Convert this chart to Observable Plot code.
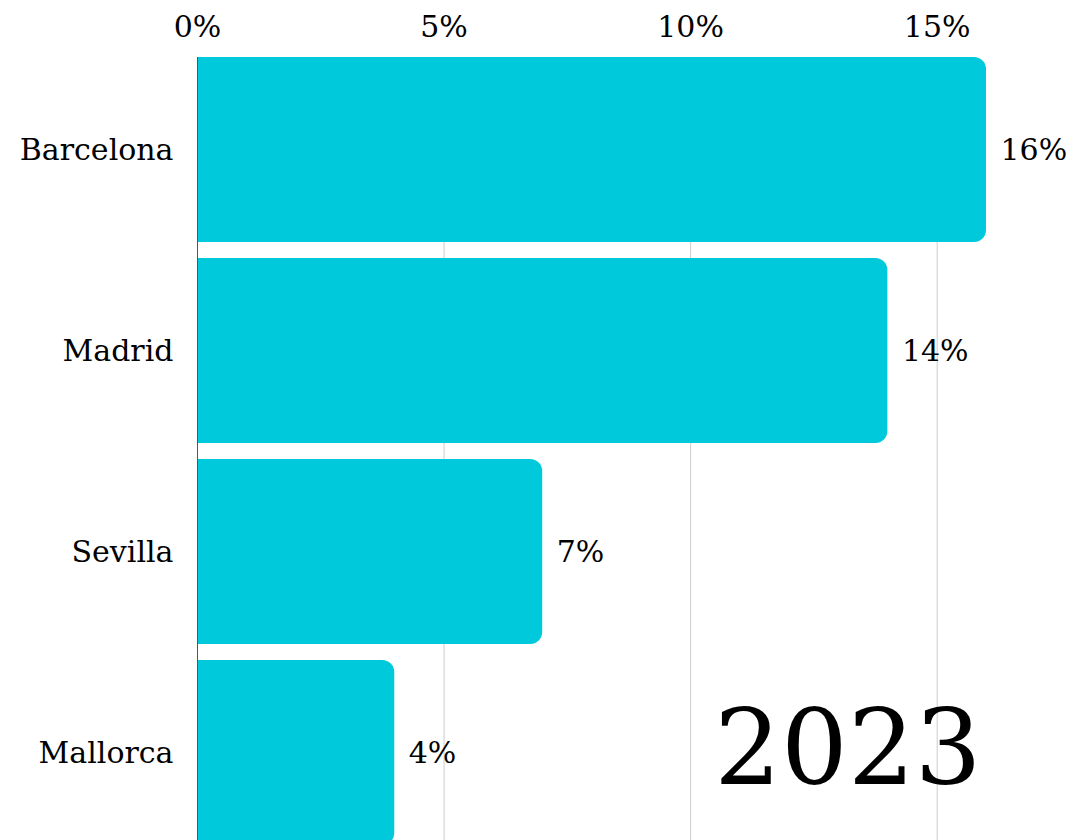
<!DOCTYPE html>
<html>
<head>
<meta charset="utf-8">
<script src="https://cdn.jsdelivr.net/npm/d3@7"></script>
<script src="https://cdn.jsdelivr.net/npm/@observablehq/plot@0.6"></script>
<style>
  html, body { margin: 0; padding: 0; background: #fff; overflow: hidden; }
</style>
</head>
<body>
<div id="chart"></div>
<script>
const cities = ["Barcelona", "Madrid", "Sevilla", "Mallorca"];
const shares = [16, 14, 7, 4];
const xTicks = [0, 5, 10, 15];
const year = "2023";

const data = cities.map((c, i) => ({city: c, share: shares[i]}));
const barColor = "#00c9dc";

const chart = Plot.plot({
  width: 1073,
  height: 845,
  marginTop: 57,
  marginLeft: 197,
  marginRight: 87,
  marginBottom: 0,
  style: {fontFamily: "'DejaVu Serif', serif", fontSize: "30px", color: "#000", background: "#fff"},
  x: {domain: [0, 16], axis: "top", ticks: xTicks, tickFormat: d => d + "%", tickSize: 0, tickPadding: 21, label: null},
  y: {domain: cities, paddingInner: 0.08, paddingOuter: 0, tickSize: 0, tickPadding: 24, label: null},
  marks: [
    Plot.gridX(xTicks.filter(d => d > 0), {stroke: "#cccccc", strokeOpacity: 1}),
    Plot.barX(data, {y: "city", x: "share", fill: barColor, rx: 12}),
    Plot.barX(data, {y: "city", x1: 0, x2: d => d.share / 2, fill: barColor}),
    Plot.ruleX([0], {stroke: "#555"}),
    Plot.text(data, {y: "city", x: "share", text: d => d.share + "%", textAnchor: "start", dx: 14, fontSize: 30, fill: "#000"}),
    Plot.text([year], {frameAnchor: "bottom-right", textAnchor: "end", lineAnchor: "bottom", dx: -5, dy: -62, fontSize: 105, fill: "#000"})
  ]
});
document.getElementById("chart").appendChild(chart);
</script>
</body>
</html>
